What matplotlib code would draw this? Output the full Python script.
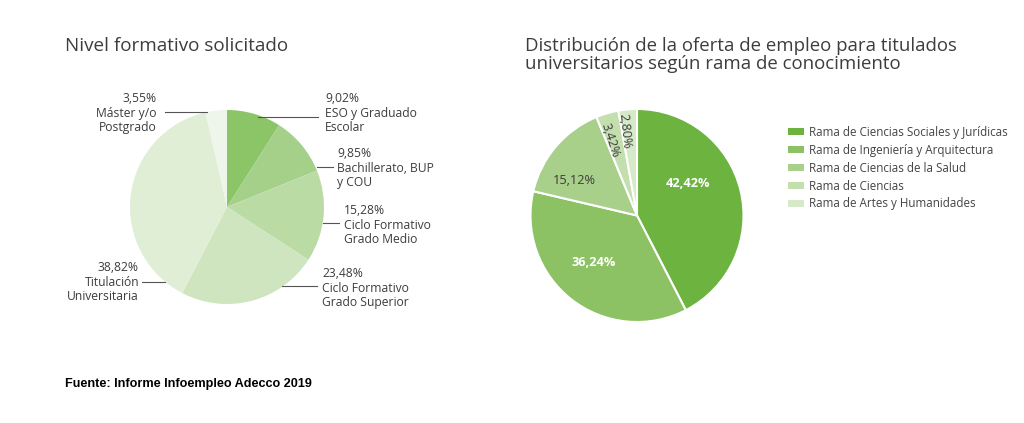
import matplotlib.pyplot as plt

plt.rcParams['font.family'] = ['Open Sans', 'DejaVu Sans']

# Left chart: Nivel formativo solicitado
nivel_labels = ['ESO y Graduado\nEscolar', 'Bachillerato, BUP\ny COU',
                'Ciclo Formativo\nGrado Medio', 'Ciclo Formativo\nGrado Superior',
                'Titulación\nUniversitaria', 'Máster y/o\nPostgrado']
nivel_values = [9.02, 9.85, 15.28, 23.48, 38.82, 3.55]
nivel_colors = ['#8bc568', '#a5d08a', '#bbdba5', '#cfe5bf', '#e1eed6', '#eef5ea']

# Right chart: rama de conocimiento
rama_labels = ['Rama de Ciencias Sociales y Jurídicas', 'Rama de Ingeniería y Arquitectura',
               'Rama de Ciencias de la Salud', 'Rama de Ciencias', 'Rama de Artes y Humanidades']
rama_values = [42.42, 36.24, 15.12, 3.42, 2.80]
rama_colors = ['#6cb33f', '#8cc263', '#a9d08a', '#c3dfae', '#d6e9c8']

W, H = 1024, 423
fig = plt.figure(figsize=(W / 100, H / 100), dpi=100)
ax = fig.add_axes([0, 0, 1, 1])


def py(y):
    # pixel row (from top) to data y
    return H - y


def fmt(v):
    return f'{v:.2f}'.replace('.', ',') + '%'


txt = '#3d3d3d'

# ---- left pie ----
ax.pie(nivel_values, colors=nivel_colors, startangle=90, counterclock=False,
       center=(227, py(207)), radius=97, wedgeprops=dict(linewidth=0))

# label layout: (text x, text y, ha, line x0, line x1, line y)
nivel_layout = [
    (325, 113, 'left', 258, 318, 117),
    (337, 168, 'left', 317, 333, 167),
    (344, 225, 'left', 323, 339, 223),
    (322, 288, 'left', 282, 317, 286),
    (139, 282, 'right', 142, 165, 282),
    (157, 113, 'right', 165, 207, 112),
]
for lab, v, (tx, ty, ha, x0, x1, ly) in zip(nivel_labels, nivel_values, nivel_layout):
    ax.text(tx, py(ty), fmt(v) + '\n' + lab, ha=ha, va='center', fontsize=8.7,
            color=txt, linespacing=1.15)
    ax.plot([x0, x1], [py(ly), py(ly)], color='#555555', lw=0.8)

ax.text(65, py(46), 'Nivel formativo solicitado', fontsize=13.6, color=txt,
        va='center', ha='left')

# ---- right pie ----
wedges, _ = ax.pie(rama_values, colors=rama_colors, startangle=90, counterclock=False,
                   center=(637, py(215.5)), radius=106.5,
                   wedgeprops=dict(linewidth=1.5, edgecolor='white'))

# inner labels: (x, y, rotation, color, bold)
rama_layout = [
    (688, 183, 0, 'white', 'bold'),
    (594, 262, 0, 'white', 'bold'),
    (574, 180, 0, '#3d3d3d', 'normal'),
    (610, 140, -72, '#3d3d3d', 'normal'),
    (625, 131, -84, '#3d3d3d', 'normal'),
]
for v, (tx, ty, rot, c, w) in zip(rama_values, rama_layout):
    ax.text(tx, py(ty), fmt(v), ha='center', va='center', fontsize=9.2,
            color=c, fontweight=w, rotation=rot)

ax.text(525, py(55), 'Distribución de la oferta de empleo para titulados\n'
        'universitarios según rama de conocimiento', fontsize=13.4, color=txt,
        va='center', ha='left', linespacing=0.95)

leg = ax.legend(wedges, rama_labels, loc='upper left', bbox_to_anchor=(782 / W, 1 - 120 / H),
                bbox_transform=fig.transFigure, frameon=False, fontsize=8.4,
                handlelength=1.4, handleheight=0.5, handletextpad=0.45,
                labelspacing=0.42, borderpad=0, labelcolor='#444444')
for h in leg.legend_handles:
    h.set_edgecolor('none')

fig.text(65 / W, 1 - 384 / H, 'Fuente: Informe Infoempleo Adecco 2019',
         family='Liberation Sans', fontweight='bold', fontsize=9.1, va='center')

ax.set_xlim(0, W)
ax.set_ylim(0, H)
ax.set_aspect('equal')
ax.axis('off')

fig.savefig('out.png', dpi=100, facecolor='white')
